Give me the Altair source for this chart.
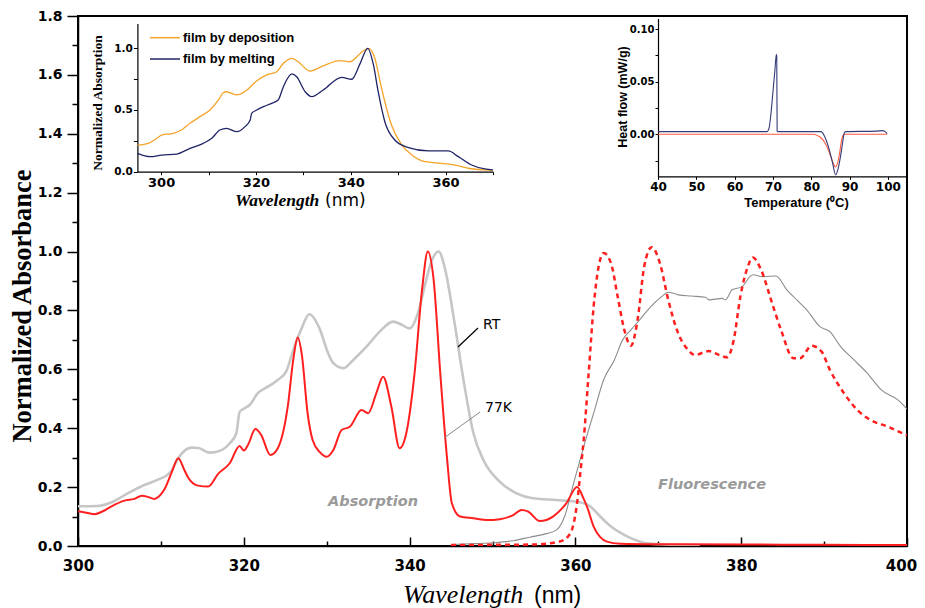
import altair as alt
import pandas as pd

# ---------------- main plot data ----------------
k77_abs_wl = [300.0, 301.0, 302.0, 303.0, 304.0, 305.6, 306.8, 307.7, 308.5, 309.2, 310.0, 310.5, 311.3, 312.1,
              312.8, 313.3, 314.5, 315.7, 316.9, 318.3, 319.5, 320.0, 320.5, 321.4, 322.1, 323.2, 324.1, 325.3,
              326.0, 326.5, 327.0, 327.7, 328.3, 329.2, 330.0, 330.8, 331.8, 332.8, 334.2, 335.0, 336.0, 336.8,
              337.8, 338.8, 339.6, 340.6, 341.5, 342.2, 342.9, 343.7, 344.5, 345.1, 346.1, 347.7, 349.3, 350.9,
              352.5, 353.5, 354.3, 355.7, 357.3, 358.9, 360.2, 361.0, 361.4, 362.2, 363.0, 363.8, 365.4, 370.0,
              380.0, 390.0, 400.0]
k77_abs_a = [0.118, 0.113, 0.108, 0.118, 0.134, 0.154, 0.160, 0.171, 0.166, 0.160, 0.175, 0.196, 0.250, 0.298,
             0.260, 0.232, 0.205, 0.202, 0.245, 0.281, 0.340, 0.324, 0.343, 0.397, 0.377, 0.309, 0.332, 0.473,
             0.640, 0.708, 0.650, 0.450, 0.360, 0.318, 0.303, 0.326, 0.394, 0.405, 0.462, 0.451, 0.520, 0.575,
             0.473, 0.332, 0.383, 0.587, 0.870, 1.000, 0.904, 0.587, 0.303, 0.145, 0.100, 0.094, 0.088, 0.091,
             0.105, 0.122, 0.117, 0.085, 0.100, 0.145, 0.200, 0.160, 0.134, 0.066, 0.030, 0.015, 0.008, 0.006,
             0.005, 0.004, 0.003]

rt_abs_wl = [300.0, 302.4, 304.4, 306.0, 308.0, 309.7, 311.1, 312.3, 313.7, 314.5, 315.9, 317.1, 318.3, 319.1,
             319.5, 320.1, 320.7, 321.7, 322.9, 324.1, 325.1, 326.1, 326.9, 327.9, 329.2, 330.1, 330.8, 332.0,
             333.2, 334.8, 336.4, 338.0, 339.0, 340.0, 341.0, 341.9, 342.7, 343.5, 344.3, 345.3, 346.5, 347.7,
             348.9, 350.9, 352.9, 354.9, 357.7, 360.2, 361.8, 363.0, 364.3, 366.3, 368.7, 372.0, 375.0]
rt_abs_a = [0.135, 0.136, 0.153, 0.179, 0.207, 0.226, 0.249, 0.307, 0.334, 0.333, 0.317, 0.323, 0.349, 0.383,
            0.456, 0.468, 0.479, 0.519, 0.541, 0.564, 0.592, 0.677, 0.734, 0.787, 0.734, 0.660, 0.621, 0.604,
            0.632, 0.677, 0.728, 0.762, 0.752, 0.739, 0.790, 0.892, 0.971, 1.000, 0.938, 0.779, 0.564, 0.383,
            0.292, 0.218, 0.179, 0.162, 0.156, 0.150, 0.134, 0.100, 0.066, 0.032, 0.009, 0.004, 0.003]

k77_fl_wl = [345.0, 350.0, 355.0, 358.1, 359.1, 359.7, 360.2, 360.6, 361.0, 361.6, 362.2, 362.8, 363.4, 364.3,
             365.1, 365.9, 366.7, 367.5, 368.3, 369.2, 370.2, 371.2, 372.4, 373.6, 374.4, 376.1, 377.3, 378.3,
             379.1, 379.9, 380.8, 381.4, 382.4, 383.6, 384.8, 386.3, 387.1, 388.5, 389.7, 390.7, 392.4, 394.0,
             395.6, 397.7, 400.0]
k77_fl_a = [0.003, 0.004, 0.005, 0.015, 0.032, 0.066, 0.145, 0.250, 0.360, 0.587, 0.813, 0.949, 0.995, 0.960,
            0.847, 0.734, 0.680, 0.768, 0.949, 1.015, 0.960, 0.836, 0.722, 0.666, 0.649, 0.662, 0.649, 0.641,
            0.700, 0.847, 0.949, 0.980, 0.938, 0.836, 0.734, 0.638, 0.638, 0.680, 0.660, 0.598, 0.519, 0.462,
            0.428, 0.405, 0.375]

rt_fl_wl = [345.0, 348.0, 350.1, 352.5, 354.5, 356.5, 357.7, 358.7, 359.8, 361.0, 362.2, 363.4, 364.7, 365.7,
            366.7, 367.9, 369.1, 370.4, 371.2, 372.4, 374.0, 375.7, 376.1, 377.7, 378.1, 378.9, 380.1, 381.4,
            382.6, 384.2, 385.5, 386.7, 387.9, 389.5, 390.7, 392.0, 393.6, 395.2, 396.9, 398.9, 400.0]
rt_fl_a = [0.005, 0.008, 0.011, 0.018, 0.030, 0.042, 0.054, 0.100, 0.215, 0.337, 0.451, 0.564, 0.632, 0.700,
           0.734, 0.773, 0.813, 0.847, 0.862, 0.853, 0.849, 0.845, 0.836, 0.841, 0.836, 0.870, 0.881, 0.921,
           0.915, 0.917, 0.870, 0.836, 0.802, 0.745, 0.728, 0.677, 0.632, 0.587, 0.530, 0.496, 0.465]

# ---------------- inset 1: films ----------------
dep_wl = [295.0, 297.3, 299.1, 300.1, 302.6, 304.3, 306.1, 308.2, 310.3, 312.1, 313.1, 313.8, 316.0, 318.1,
          320.2, 322.3, 324.4, 325.8, 327.6, 328.9, 331.4, 334.2, 337.7, 339.9, 341.3, 342.5, 343.8, 345.1,
          346.2, 347.2, 348.6, 350.8, 352.9, 355.7, 359.2, 362.0, 364.8, 368.3, 370.0]
dep_a = [0.216, 0.230, 0.271, 0.297, 0.311, 0.338, 0.392, 0.446, 0.500, 0.581, 0.640, 0.648, 0.622, 0.662,
         0.737, 0.784, 0.810, 0.878, 0.919, 0.891, 0.816, 0.857, 0.900, 0.891, 0.932, 0.975, 1.000, 0.919,
         0.729, 0.567, 0.378, 0.216, 0.135, 0.081, 0.068, 0.054, 0.028, 0.014, 0.010]

melt_wl = [295.0, 297.7, 300.1, 303.3, 306.1, 308.9, 310.7, 312.4, 313.8, 316.0, 317.7, 318.8, 319.1, 320.2,
           321.6, 323.3, 324.7, 325.8, 327.6, 328.6, 330.4, 331.8, 334.2, 338.1, 340.2, 342.0, 343.6, 344.8,
           345.8, 347.2, 349.3, 352.2, 356.4, 360.6, 362.7, 365.5, 368.3, 370.0]
melt_a = [0.149, 0.122, 0.135, 0.143, 0.189, 0.230, 0.271, 0.338, 0.351, 0.324, 0.365, 0.419, 0.473, 0.500,
          0.527, 0.554, 0.581, 0.689, 0.792, 0.770, 0.648, 0.608, 0.662, 0.765, 0.749, 0.878, 1.000, 0.865,
          0.648, 0.405, 0.257, 0.195, 0.168, 0.168, 0.122, 0.054, 0.022, 0.015]

legend_names = ["film by deposition", "film by melting"]
legend_colors = ["#f5a42a", "#1f2466"]

# ---------------- inset 2: DSC ----------------
dsc_blue_t = [40.0, 68.5, 69.0, 69.5, 70.0, 70.5, 70.9, 71.0, 71.1, 71.3, 82.5, 83.5, 84.5, 85.5, 86.4, 87.0,
              87.6, 88.2, 88.6, 89.0, 97.0, 98.5, 99.3, 99.8]
dsc_blue_h = [0.0025, 0.0025, 0.006, 0.020, 0.040, 0.060, 0.076, 0.074, 0.003, 0.0025, 0.0025, -0.002, -0.012,
              -0.026, -0.0386, -0.033, -0.022, -0.008, 0.001, 0.0025, 0.003, 0.0035, 0.0025, 0.0005]
dsc_red_t = [40.0, 80.5, 82.0, 83.0, 84.0, 85.0, 85.8, 86.3, 86.9, 87.4, 87.9, 88.3, 88.8, 99.8]
dsc_red_h = [0.0, 0.0, -0.002, -0.005, -0.011, -0.020, -0.028, -0.031, -0.027, -0.018, -0.006, -0.001, 0.0, 0.0]

# ---------------- axis ticks ----------------
main_x_labels = [300, 320, 340, 360, 380, 400]
main_x_minor = [310, 330, 350, 370, 390]
main_y_labels = [0.0, 0.2, 0.4, 0.6, 0.8, 1.0, 1.2, 1.4, 1.6, 1.8]
main_y_minor = [0.1, 0.3, 0.5, 0.7, 0.9, 1.1, 1.3, 1.5, 1.7]
in1_x_ticks = [300, 310, 320, 330, 340, 350, 360, 370]
in1_y_ticks = [0.0, 0.25, 0.5, 0.75, 1.0]
in2_x_ticks = [40, 50, 60, 70, 80, 90, 100]
in2_y_ticks = [-0.025, 0.0, 0.025, 0.05, 0.075, 0.10]

W, H = 829, 530
BOLD_SANS = "DejaVu Sans"


def frame(xs, ys):
    return pd.DataFrame({"x": xs, "y": ys})


# ---------- main ----------
mx = alt.Scale(domain=[300, 400], range=[0, W], nice=False, zero=False)
my = alt.Scale(domain=[0, 1.8], range=[H, 0], nice=False, zero=False)
mx_axis = alt.Axis(orient="bottom", values=main_x_labels, ticks=False, tickSize=0, labelPadding=12,
                   labelFlush=False, labelOverlap=False,
                   labelOffset={"condition": {"test": "datum.value == 400", "value": -6}, "value": 0},
                   labelFont=BOLD_SANS, labelFontWeight="bold", labelFontSize=15, labelColor="black",
                   domainColor="black", domainWidth=1.5, title=None, grid=False)
my_axis = alt.Axis(orient="left", values=main_y_labels, format=".1f", tickSize=11, tickWidth=1.5,
                   tickColor="black", labelPadding=5, labelFlush=False, labelOverlap=False,
                   labelFont=BOLD_SANS, labelFontWeight="bold",
                   labelFontSize=14, labelColor="black", domainColor="black", domainWidth=1.5,
                   title=None, grid=False)


def main_line(xs, ys, color, width, dash=None):
    kw = dict(color=color, strokeWidth=width, clip=True, interpolate="monotone")
    if dash:
        kw["strokeDash"] = dash
    return alt.Chart(frame(xs, ys)).mark_line(**kw).encode(
        x=alt.X("x:Q", scale=mx, axis=mx_axis),
        y=alt.Y("y:Q", scale=my, axis=my_axis))


def label(text, px, py, size, font="DejaVu Sans", weight="normal", style="normal", color="black",
          align="left", baseline="middle", angle=0):
    kw = dict(font=font, fontSize=size, fontWeight=weight, fontStyle=style, color=color,
              align=align, baseline=baseline)
    if angle:
        kw["angle"] = angle
    return alt.Chart(pd.DataFrame({"t": [text]})).mark_text(**kw).encode(
        text="t:N", x=alt.value(px), y=alt.value(py))


def seg(x1, y1, x2, y2, color, width):
    return alt.Chart(pd.DataFrame({"a": [0]})).mark_rule(color=color, strokeWidth=width).encode(
        x=alt.value(x1), y=alt.value(y1), x2=alt.value(x2), y2=alt.value(y2))


main = alt.layer(
    main_line(rt_abs_wl, rt_abs_a, "#c6c6c6", 2.6),
    main_line(rt_fl_wl, rt_fl_a, "#8c8c8c", 1.1),
    main_line(k77_abs_wl, k77_abs_a, "#ff1f1f", 2.0),
    main_line(k77_fl_wl, k77_fl_a, "#ff1f1f", 2.5, dash=[5, 4]),
)

dummy = pd.DataFrame({"x": [300.0], "y": [0.0]})
tick_major = alt.Chart(dummy).mark_point(opacity=0).encode(
    x=alt.X("x:Q", scale=mx, axis=alt.Axis(orient="top", offset=-H, values=main_x_labels, labels=False,
                                           domain=False, tickSize=9, tickWidth=1.5, tickColor="black",
                                           title=None, grid=False)),
    y=alt.Y("y:Q", scale=my, axis=alt.Axis(orient="left", values=main_y_minor, labels=False,
                                           domain=False, tickSize=6, tickWidth=1.5, tickColor="black",
                                           title=None, grid=False)))
tick_minor = alt.Chart(dummy).mark_point(opacity=0).encode(
    x=alt.X("x:Q", scale=mx, axis=alt.Axis(orient="top", offset=-H, values=main_x_minor, labels=False,
                                           domain=False, tickSize=5, tickWidth=1.5, tickColor="black",
                                           title=None, grid=False)),
    y=alt.Y("y:Q", scale=my, axis=None))

# ---------- inset 1 ----------
i1x = alt.Scale(domain=[295, 370], range=[59.4, 414.9], nice=False, zero=False)
i1y = alt.Scale(domain=[0, 1.2], range=[155.7, 7.6], nice=False, zero=False)
i1x_axis = alt.Axis(orient="bottom", offset=-(H - 155.7), values=in1_x_ticks,
                    labelExpr="datum.value % 20 == 0 ? datum.label : ''", tickSize=3, tickColor="black",
                    labelPadding=2, labelFlush=False, labelOverlap=False,
                    labelFont=BOLD_SANS, labelFontWeight="bold", labelFontSize=13,
                    labelColor="black", domainColor="black", domainWidth=1.2, title=None, grid=False)
i1y_axis = alt.Axis(orient="left", offset=-59.4, values=in1_y_ticks,
                    labelExpr="(datum.value == 0.25 || datum.value == 0.75) ? '' : format(datum.value, '.1f')",
                    tickSize=4, tickColor="black", labelPadding=1, labelFlush=False, labelOverlap=False,
                    labelFont=BOLD_SANS,
                    labelFontWeight="bold", labelFontSize=10.5, labelColor="black", domainColor="black",
                    domainWidth=1.2, title=None, grid=False)


def in1_line(xs, ys, color):
    return alt.Chart(frame(xs, ys)).mark_line(color=color, strokeWidth=1.3, interpolate="monotone").encode(
        x=alt.X("x:Q", scale=i1x, axis=i1x_axis),
        y=alt.Y("y:Q", scale=i1y, axis=i1y_axis))


inset1 = alt.layer(in1_line(dep_wl, dep_a, legend_colors[0]), in1_line(melt_wl, melt_a, legend_colors[1]))

# ---------- inset 2 ----------
i2x = alt.Scale(domain=[40, 105], range=[580, 829], nice=False, zero=False)
i2y = alt.Scale(domain=[-0.04, 0.11], range=[160.4, 2.5], nice=False, zero=False)
i2x_axis = alt.Axis(orient="bottom", offset=-(H - 160.4), values=in2_x_ticks, tickSize=3,
                    tickColor="black", labelPadding=2, labelFlush=False, labelOverlap=False,
                    labelFont=BOLD_SANS, labelFontWeight="bold",
                    labelFontSize=12, labelColor="black", domainColor="black", domainWidth=1.2,
                    title=None, grid=False)
i2y_axis = alt.Axis(orient="left", offset=-580, values=in2_y_ticks,
                    labelExpr="(abs(round(datum.value*1000)) % 50 == 0) ? format(datum.value, '.2f') : ''",
                    tickSize=3, tickColor="black", labelPadding=1, labelFlush=False, labelOverlap=False,
                    labelFont=BOLD_SANS,
                    labelFontWeight="bold", labelFontSize=10, labelColor="black", domainColor="black",
                    domainWidth=1.2, title=None, grid=False)


def in2_line(xs, ys, color):
    return alt.Chart(frame(xs, ys)).mark_line(color=color, strokeWidth=1.1, interpolate="monotone").encode(
        x=alt.X("x:Q", scale=i2x, axis=i2x_axis),
        y=alt.Y("y:Q", scale=i2y, axis=i2y_axis))


inset2 = alt.layer(in2_line(dsc_red_t, dsc_red_h, "#ff5a3c"), in2_line(dsc_blue_t, dsc_blue_h, "#353a78"))

# ---------- text annotations ----------
texts = [
    label("RT", 405, 309, 14),
    label("77K", 407, 392, 14),
    seg(380, 331, 400, 312, "black", 1.2),
    seg(366, 422, 402, 396, "#888888", 1.0),
    label("Absorption", 295, 486, 14.5, weight="bold", style="italic", color="#9a9a9a", align="center"),
    label("Fluorescence", 634, 469, 14.5, weight="bold", style="italic", color="#9a9a9a", align="center"),
    label("Normalized Absorbance", -55, 290, 26.5, font="Liberation Serif", weight="bold",
          align="center", angle=270),
    label("Wavelength", 325, 587, 26, font="Liberation Serif", style="italic", baseline="alphabetic"),
    label("(nm)", 456, 587, 23, font="Liberation Sans", baseline="alphabetic"),
    # inset 1
    label("Normalized  Absorption", 20, 87, 13.5, font="Liberation Serif", weight="bold",
          align="center", angle=270),
    label("Wavelength", 157, 190, 17.5, font="Liberation Serif", weight="bold", style="italic",
          baseline="alphabetic"),
    label("(nm)", 247, 190, 17, font="DejaVu Sans", baseline="alphabetic"),
    seg(72, 21.7, 102, 21.7, legend_colors[0], 1.5),
    seg(72, 43, 102, 43, legend_colors[1], 1.5),
    label(legend_names[0], 105, 21.7, 13, font="Liberation Sans", weight="bold"),
    label(legend_names[1], 105, 43, 13, font="Liberation Sans", weight="bold"),
    # inset 2
    label("Heat flow (mW/g)", 545, 81, 12.5, font="Liberation Sans", weight="bold", align="center", angle=270),
    label("Temperature (\u2070C)", 718.5, 190.7, 13, font="Liberation Sans", weight="bold",
          align="center", baseline="alphabetic"),
]

chart = alt.layer(main, tick_major, tick_minor, inset1, inset2, *texts).resolve_scale(
    x="independent", y="independent"
).properties(
    width=W, height=H,
    autosize=alt.AutoSizeParams(type="none"),
    padding={"left": 70, "top": 8, "right": 10, "bottom": 62},
    background="white",
).configure_view(stroke="black", strokeWidth=2).configure_axis(grid=False)

chart.save("out.html", embed_options={"renderer": "svg", "actions": False})
